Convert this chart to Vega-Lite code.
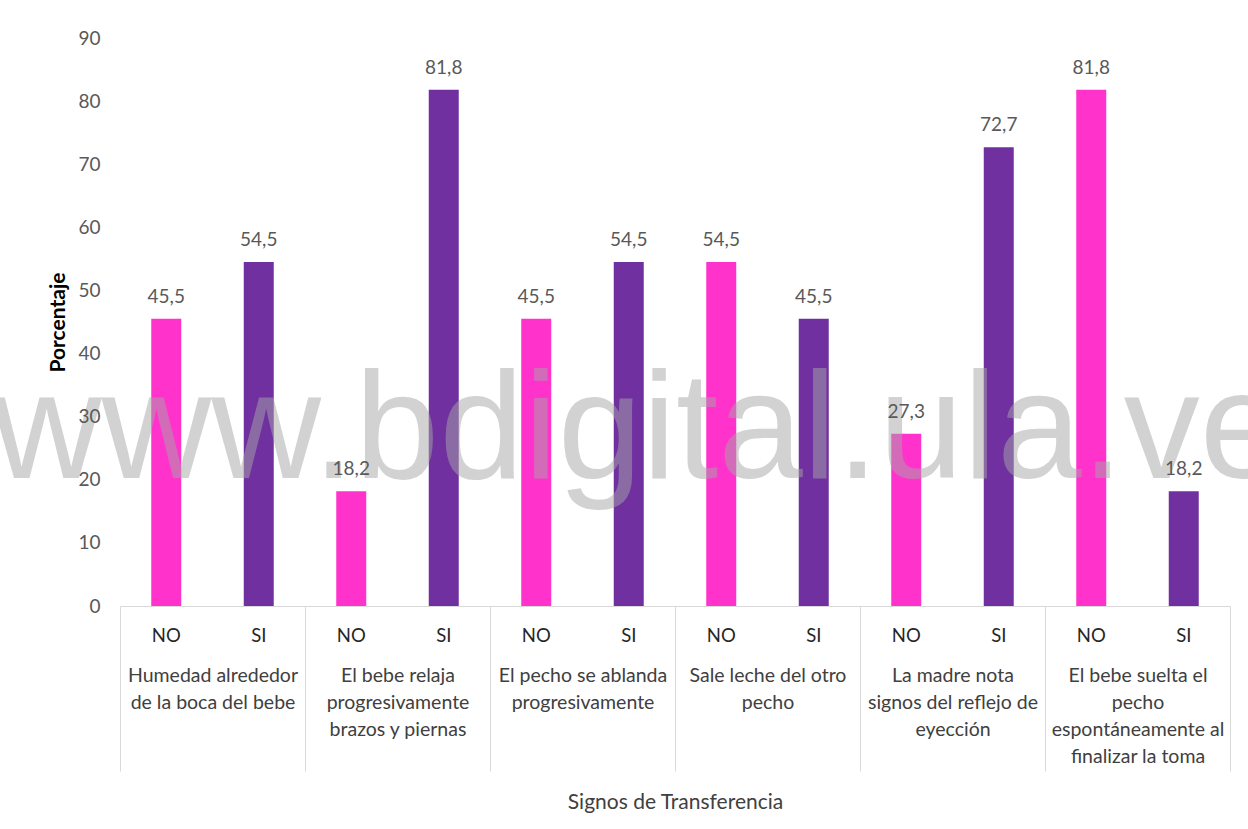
{
  "$schema": "https://vega.github.io/schema/vega-lite/v6.json",
  "autosize": {"type": "none"},
  "padding": {"left": 120, "top": 38, "right": 18, "bottom": 223},
  "width": 1110,
  "height": 568,
  "background": "white",
  "config": {
    "font": "Lato",
    "view": {"stroke": null},
    "locale": {"number": {"decimal": ",", "thousands": ".", "grouping": [3], "currency": ["", " €"]}}
  },
  "data": {
    "values": [
      {"grupo": "Humedad alrededor\nde la boca del bebe", "respuesta": "NO", "porcentaje": 45.5},
      {"grupo": "Humedad alrededor\nde la boca del bebe", "respuesta": "SI", "porcentaje": 54.5},
      {"grupo": "El bebe relaja\nprogresivamente\nbrazos y piernas", "respuesta": "NO", "porcentaje": 18.2},
      {"grupo": "El bebe relaja\nprogresivamente\nbrazos y piernas", "respuesta": "SI", "porcentaje": 81.8},
      {"grupo": "El pecho se ablanda\nprogresivamente", "respuesta": "NO", "porcentaje": 45.5},
      {"grupo": "El pecho se ablanda\nprogresivamente", "respuesta": "SI", "porcentaje": 54.5},
      {"grupo": "Sale leche del otro\npecho", "respuesta": "NO", "porcentaje": 54.5},
      {"grupo": "Sale leche del otro\npecho", "respuesta": "SI", "porcentaje": 45.5},
      {"grupo": "La madre nota\nsignos del reflejo de\neyección", "respuesta": "NO", "porcentaje": 27.3},
      {"grupo": "La madre nota\nsignos del reflejo de\neyección", "respuesta": "SI", "porcentaje": 72.7},
      {"grupo": "El bebe suelta el\npecho\nespontáneamente al\nfinalizar la toma", "respuesta": "NO", "porcentaje": 81.8},
      {"grupo": "El bebe suelta el\npecho\nespontáneamente al\nfinalizar la toma", "respuesta": "SI", "porcentaje": 18.2}
    ]
  },
  "encoding": {
    "x": {
      "field": "grupo",
      "type": "nominal",
      "sort": null,
      "scale": {"paddingInner": 0, "paddingOuter": 0},
      "axis": {
        "title": "Signos de Transferencia",
        "titleFont": "Lato",
        "titleFontSize": 21,
        "titleFontWeight": "normal",
        "titleColor": "#404040",
        "titleY": 196,
        "titleBaseline": "middle",
        "labelAngle": 0,
        "labelExpr": "split(datum.label, '\\n')",
        "labelBaseline": "top",
        "labelAlign": "center",
        "labelLineHeight": 27,
        "labelFontSize": 19.5,
        "labelColor": "#404040",
        "labelLimit": 0,
        "labelPadding": -105,
        "tickBand": "extent",
        "tickSize": 165,
        "tickColor": "#D9D9D9",
        "domainColor": "#D9D9D9",
        "zindex": 1
      }
    },
    "y": {
      "field": "porcentaje",
      "type": "quantitative",
      "scale": {"domain": [0, 90], "nice": false},
      "axis": {
        "title": "Porcentaje",
        "titleFont": "Lato",
        "titleFontSize": 21,
        "titleFontWeight": "bold",
        "titleColor": "#000000",
        "titleX": -62,
        "titleY": 284,
        "titleAngle": -90,
        "titleAlign": "center",
        "titleBaseline": "middle",
        "values": [0, 10, 20, 30, 40, 50, 60, 70, 80, 90],
        "grid": false,
        "domain": false,
        "ticks": false,
        "labelFontSize": 19,
        "labelColor": "#595959",
        "labelPadding": 20,
        "zindex": 1
      }
    }
  },
  "layer": [
    {
      "mark": {"type": "bar"},
      "encoding": {
        "xOffset": {
          "field": "respuesta",
          "type": "nominal",
          "sort": ["NO", "SI"],
          "scale": {"paddingInner": 0.6757, "paddingOuter": 0.3378}
        },
        "color": {
          "field": "respuesta",
          "type": "nominal",
          "scale": {"domain": ["NO", "SI"], "range": ["#FF33CC", "#7030A0"]},
          "legend": null
        }
      }
    },
    {
      "transform": [
        {"filter": "datum.respuesta == 'NO' && indexof(datum.grupo, 'El pecho') == 0"}
      ],
      "mark": {
        "type": "text",
        "font": "Liberation Sans",
        "fontSize": 152,
        "color": "#A6A6A6",
        "opacity": 0.5,
        "align": "center",
        "baseline": "alphabetic"
      },
      "encoding": {
        "x": {"field": "grupo", "type": "nominal", "sort": null, "bandPosition": 0.8},
        "y": {"datum": 20.3},
        "text": {"value": "www.bdigital.ula.ve"}
      }
    },
    {
      "mark": {
        "type": "text",
        "fontSize": 19,
        "color": "#595959",
        "baseline": "alphabetic",
        "dy": -16
      },
      "encoding": {
        "xOffset": {"field": "respuesta", "type": "nominal", "sort": ["NO", "SI"]},
        "text": {"field": "porcentaje", "type": "quantitative", "format": ".1f"}
      }
    },
    {
      "mark": {
        "type": "text",
        "fontSize": 18.5,
        "color": "#262626",
        "baseline": "middle",
        "dy": 30
      },
      "encoding": {
        "xOffset": {"field": "respuesta", "type": "nominal", "sort": ["NO", "SI"]},
        "y": {"datum": 0},
        "text": {"field": "respuesta"}
      }
    }
  ]
}
